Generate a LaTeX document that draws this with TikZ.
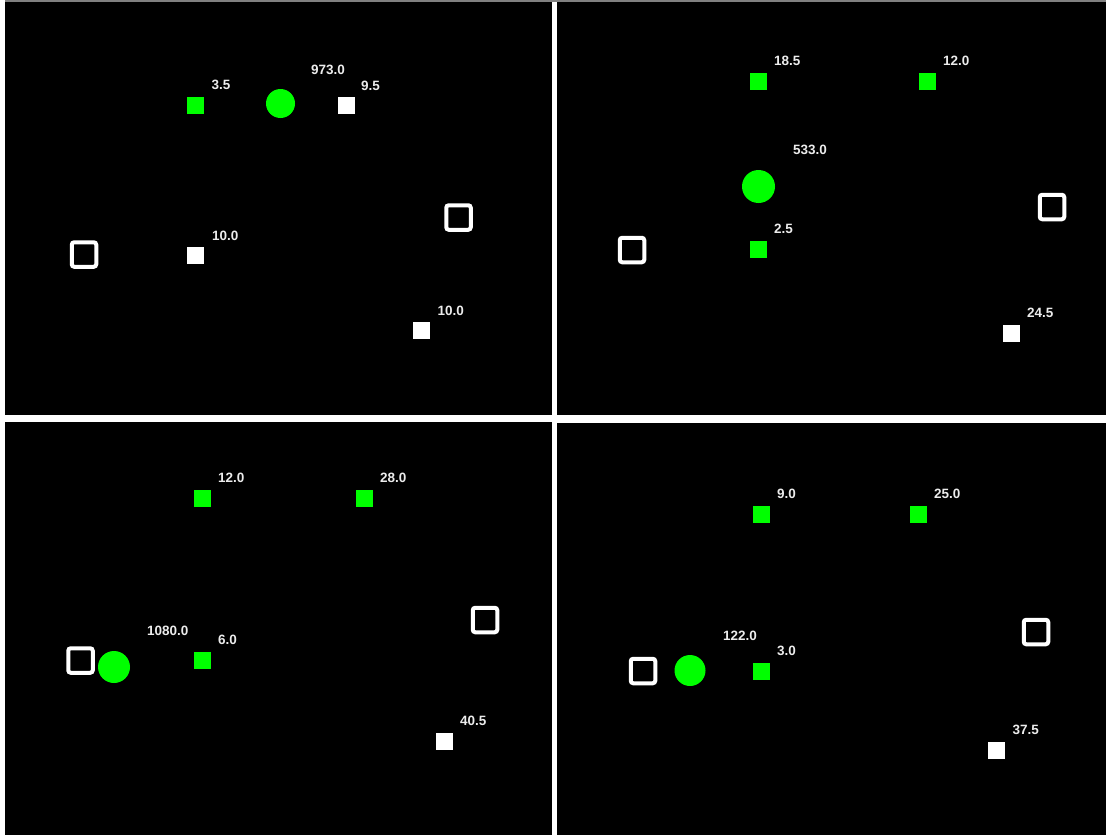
\documentclass[tikz,border=0pt]{standalone}
\usepackage{fontspec}
\setmainfont{Liberation Sans}
\usetikzlibrary{positioning}
\definecolor{mkgreen}{RGB}{0,255,0}
\definecolor{txtgray}{RGB}{236,236,236}

\begin{document}
\begin{tikzpicture}[x=1pt, y=1pt,
	panel/.style={fill=black},
	gsq/.style={fill=mkgreen, minimum size=17pt, inner sep=0pt},
	wsq/.style={fill=white, minimum size=17pt, inner sep=0pt},
	wbox/.style={draw=white, line width=4pt, rounded corners=2.5pt, minimum size=24.5pt, inner sep=0pt},
	gdot/.style={circle, fill=mkgreen, inner sep=0pt},
	val/.style={text=txtgray, font=\bfseries\fontsize{13.5}{16}\selectfont, inner sep=0pt}]
	\useasboundingbox (0,0) rectangle (1106,-835);
	\fill[white] (0,0) rectangle (1106,-835);
	\fill[gray] (5,0) rectangle (1106,-2);
	% four frames
	\fill[panel] (5,-2) rectangle (552,-415);
	\fill[panel] (557,-2) rectangle (1106,-415);
	\fill[panel] (5,-422) rectangle (552,-835);
	\fill[panel] (557,-423) rectangle (1106,-835);
	
	% top left
	\node[gsq] (a-g1) at (195.5,-105) {};
	\node[gdot, minimum size=29pt] (a-dot) at (280.5,-103.5) {};
	\node[wsq] (a-w1) at (346,-105) {};
	\node[wbox] (a-box1) at (84,-254.5) {};
	\node[wsq] (a-w2) at (195.5,-255) {};
	\node[wbox] (a-box2) at (458.5,-217.5) {};
	\node[wsq] (a-w3) at (421,-330) {};
	\node[val, above right=15pt and 16pt of a-g1.center] (a-l1) {3.5};
	\node[val, above right=28.5pt and 30.5pt of a-dot.center] (a-l2) {973.0};
	\node[val, above right=14.5pt and 15pt of a-w1.center] (a-l3) {9.5};
	\node[val, above right=14.5pt and 16.5pt of a-w2.center] (a-l4) {10.0};
	\node[val, above right=14.5pt and 16.5pt of a-w3.center] (a-l5) {10.0};
	
	% top right
	\node[gsq] (b-g1) at (758,-81) {};
	\node[gsq] (b-g2) at (927,-81) {};
	\node[gdot, minimum size=33pt] (b-dot) at (758.5,-186.5) {};
	\node[gsq] (b-g3) at (758,-249) {};
	\node[wbox] (b-box1) at (632,-250) {};
	\node[wbox] (b-box2) at (1052,-207) {};
	\node[wsq] (b-w1) at (1011,-333) {};
	\node[val, above right=15pt and 16pt of b-g1.center] (b-l1) {18.5};
	\node[val, above right=15pt and 16pt of b-g2.center] (b-l2) {12.0};
	\node[val, above right=32pt and 34.5pt of b-dot.center] (b-l3) {533.0};
	\node[val, above right=15pt and 16pt of b-g3.center] (b-l4) {2.5};
	\node[val, above right=15.5pt and 16pt of b-w1.center] (b-l5) {24.5};
	
	% bottom left
	\node[gsq] (c-g1) at (202,-498) {};
	\node[gsq] (c-g2) at (364,-498) {};
	\node[wbox] (c-box1) at (80.5,-660.5) {};
	\node[gdot, minimum size=32pt] (c-dot) at (114,-667) {};
	\node[gsq] (c-g3) at (202,-660.5) {};
	\node[wbox] (c-box2) at (485,-620) {};
	\node[wsq] (c-w1) at (444,-741) {};
	\node[val, above right=15pt and 16pt of c-g1.center] (c-l1) {12.0};
	\node[val, above right=15pt and 16pt of c-g2.center] (c-l2) {28.0};
	\node[val, above right=31pt and 33pt of c-dot.center] (c-l3) {1080.0};
	\node[val, above right=15.5pt and 16pt of c-g3.center] (c-l4) {6.0};
	\node[val, above right=15pt and 16pt of c-w1.center] (c-l5) {40.5};
	
	% bottom right
	\node[gsq] (d-g1) at (761,-514) {};
	\node[gsq] (d-g2) at (918,-514) {};
	\node[wbox] (d-box1) at (643,-671) {};
	\node[gdot, minimum size=31pt] (d-dot) at (690,-670.5) {};
	\node[gsq] (d-g3) at (761,-671) {};
	\node[wbox] (d-box2) at (1036,-632) {};
	\node[wsq] (d-w1) at (996.5,-750) {};
	\node[val, above right=15pt and 16pt of d-g1.center] (d-l1) {9.0};
	\node[val, above right=15pt and 16pt of d-g2.center] (d-l2) {25.0};
	\node[val, above right=29.5pt and 33pt of d-dot.center] (d-l3) {122.0};
	\node[val, above right=15pt and 16pt of d-g3.center] (d-l4) {3.0};
	\node[val, above right=15pt and 16pt of d-w1.center] (d-l5) {37.5};
\end{tikzpicture}
\end{document}
